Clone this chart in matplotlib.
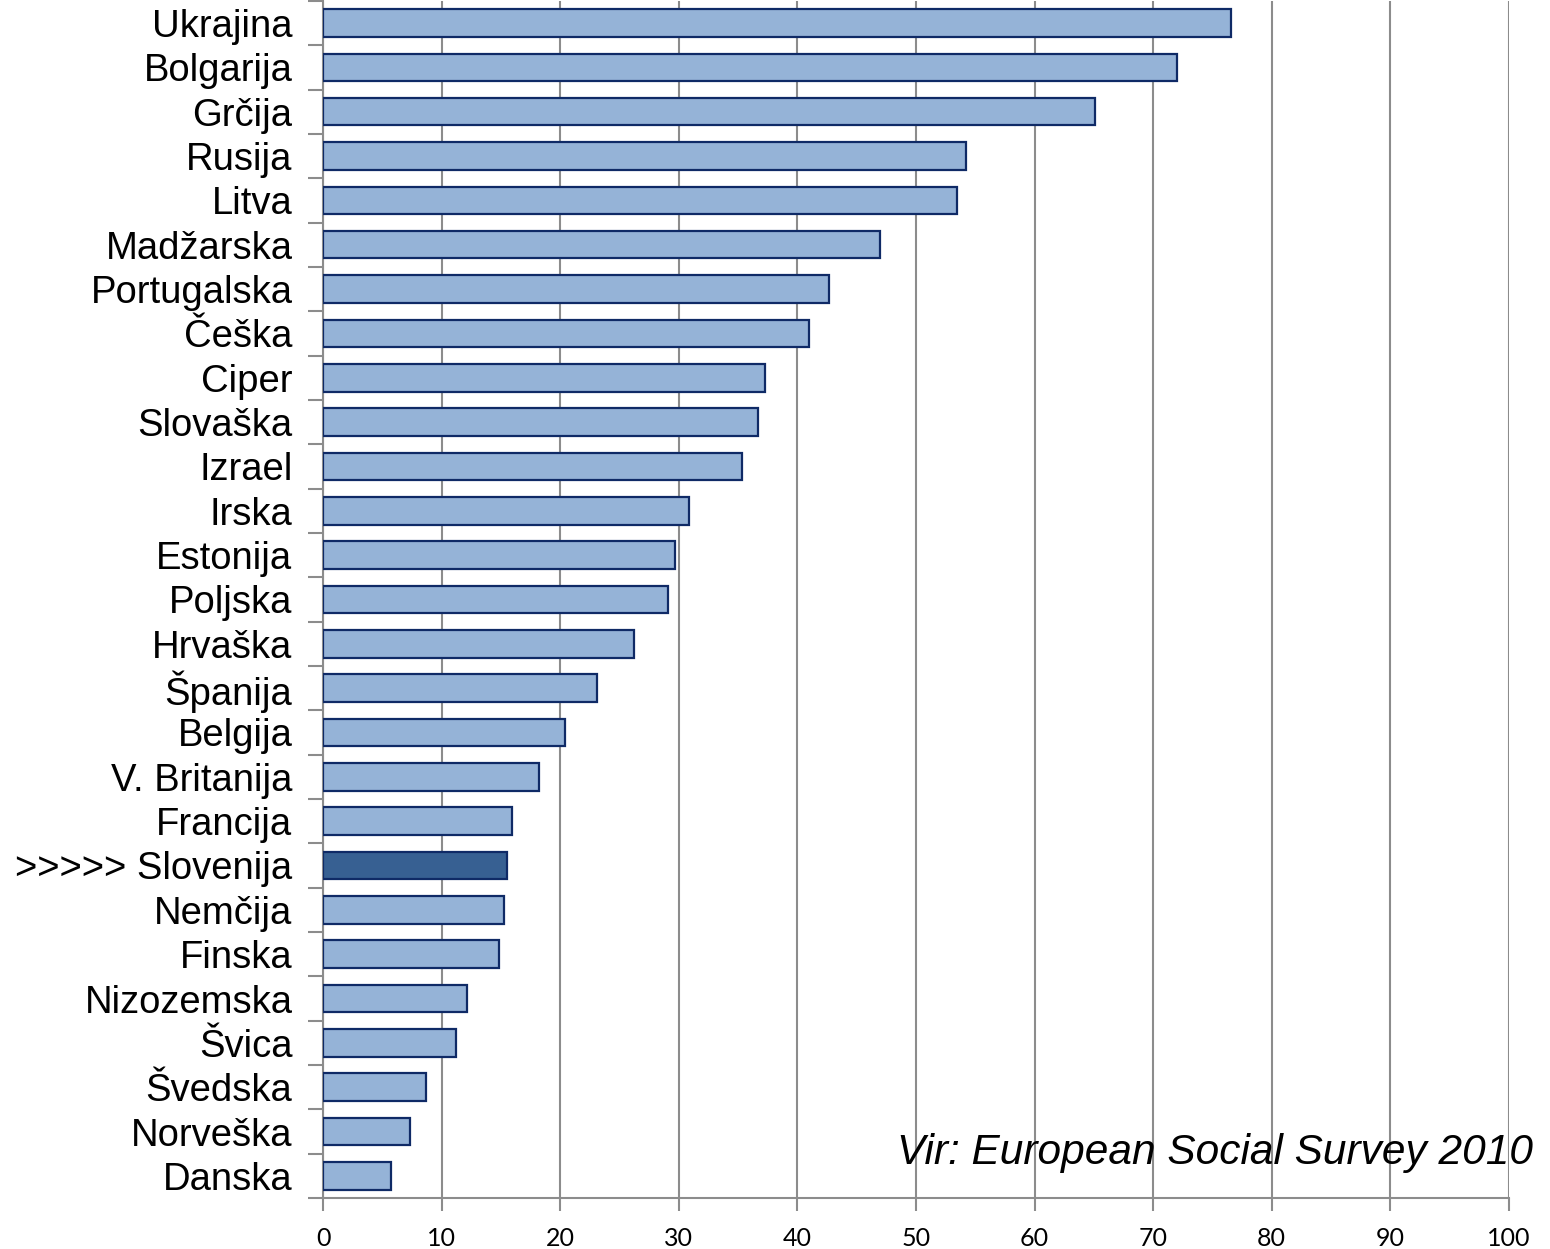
import numpy as np
import matplotlib
matplotlib.use("Agg")
from matplotlib import pyplot as plt

countries = ["Ukrajina", "Bolgarija", "Grčija", "Rusija", "Litva", "Madžarska",
             "Portugalska", "Češka", "Ciper", "Slovaška", "Izrael", "Irska",
             "Estonija", "Poljska", "Hrvaška", "Španija", "Belgija", "V. Britanija",
             "Francija", ">>>>> Slovenija", "Nemčija", "Finska", "Nizozemska",
             "Švica", "Švedska", "Norveška", "Danska"]
values = [76.6, 72.0, 65.1, 54.2, 53.5, 47.0, 42.7, 41.0, 37.3, 36.7, 35.3, 30.9,
          29.7, 29.1, 26.2, 23.1, 20.4, 18.2, 15.9, 15.5, 15.3, 14.8, 12.1, 11.2,
          8.7, 7.3, 5.7]
xticks = [0, 10, 20, 30, 40, 50, 60, 70, 80, 90, 100]
source = "Vir: European Social Survey 2010"

light = "#95b3d7"
dark = "#376092"
edge = "#0f2a66"
gridc = "#8c8c8c"

fig = plt.figure(figsize=(15.5, 12.49), dpi=100)
ax = fig.add_axes([0.2084, 0.0408, 0.9735 - 0.2084, 0.9585])

n = len(countries)
y = np.arange(n)[::-1]
colors = [dark if "Slovenija" in c else light for c in countries]
ax.barh(y, values, height=0.62, color=colors, edgecolor=edge, linewidth=1.6, zorder=3)

ax.set_xlim(0, 100)
ax.set_ylim(-0.5, n - 0.5)
ax.set_xticks(xticks)
ax.set_xticklabels([str(t) for t in xticks], fontsize=18, family="Lato")
ax.xaxis.grid(True, color=gridc, linewidth=1.5, zorder=0)
ax.tick_params(axis="x", length=9, width=1.5, color=gridc, pad=12)

ax.set_yticks(y)
ax.set_yticklabels(countries, fontsize=27.5, family="Liberation Sans")
ax.set_yticks(np.arange(n + 1) - 0.5, minor=True)
ax.tick_params(axis="y", which="major", length=0, pad=22)
ax.tick_params(axis="y", which="minor", length=11, width=1.5, color=gridc)

for s in ["top", "right"]:
    ax.spines[s].set_visible(False)
for s in ["left", "bottom"]:
    ax.spines[s].set_color(gridc)
    ax.spines[s].set_linewidth(1.5)

fig.text(0.989, 0.068, source, fontsize=30.5, style="italic", family="Liberation Sans",
         ha="right", va="baseline")

fig.savefig("out.png", dpi=100)
